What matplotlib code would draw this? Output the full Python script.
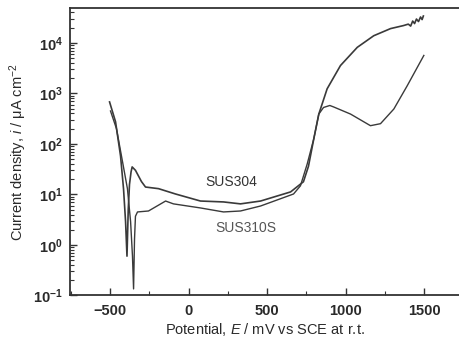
import numpy as np
import matplotlib
matplotlib.use("Agg")
import matplotlib.pyplot as plt
from matplotlib.ticker import MultipleLocator, LogLocator, NullFormatter

plt.rcParams['font.family'] = ['Liberation Sans', 'DejaVu Sans']
plt.rcParams['mathtext.fontset'] = 'custom'
plt.rcParams['mathtext.rm'] = 'Liberation Sans'
plt.rcParams['mathtext.it'] = 'Liberation Sans:italic'

# potential (mV vs SCE) and current density (uA cm-2)
sus304_E = [-503, -465, -433, -414, -401, -392, -384, -376, -366, -359, -338, -300,
            -274, -191, -83, 76, 223, 331, 459, 650, 732, 764, 798, 830, 883, 968,
            1075, 1180, 1287, 1369, 1400, 1415, 1428, 1440, 1452, 1465, 1478, 1488, 1496]
sus304_i = [676, 275, 57.5, 12.9, 2.9, 0.6, 5.0, 15.8, 28, 35, 30, 18,
            14, 13, 10.2, 7.4, 7.1, 6.5, 7.4, 11.2, 17.8, 36, 126, 389, 1230, 3550,
            8130, 13800, 19100, 21900, 23400, 21400, 26900, 24000, 29500, 26300, 32400, 28800, 33900]

sus310s_E = [-497, -459, -420, -389, -369, -357, -350, -344, -338, -325, -255, -146,
             -96, 76, 223, 331, 459, 669, 713, 756, 798, 830, 860, 900, 925, 1032,
             1159, 1223, 1308, 1393, 1499]
sus310s_i = [447, 200, 43.7, 12.9, 2.9, 0.6, 0.135, 1.3, 3.7, 4.5, 4.7, 7.4,
             6.5, 5.4, 4.5, 4.7, 5.9, 10.2, 14.8, 40, 126, 389, 525, 575, 537, 389,
             229, 251, 490, 1410, 5620]

x_ticks = [-500, 0, 500, 1000, 1500]

fig = plt.figure(figsize=(4.59, 3.49), dpi=100)
ax = fig.add_axes([0.1525, 0.1533, 0.8475, 0.824])

line_col = '#3a3a3a'
ax.plot(sus304_E, sus304_i, color=line_col, lw=1.2)
ax.plot(sus310s_E, sus310s_i, color=line_col, lw=1.0)

ax.set_yscale('log')
ax.set_xlim(-755, 1723)
ax.set_ylim(0.1, 10 ** 4.69)

ax.set_xticks(x_ticks)
ax.set_xticklabels(['\u2212500', '0', '500', '1000', '1500'])
ax.xaxis.set_minor_locator(MultipleLocator(250))
ax.yaxis.set_major_locator(LogLocator(base=10, numticks=10))
ax.yaxis.set_minor_locator(LogLocator(base=10, subs=np.arange(2, 10), numticks=20))
ax.yaxis.set_minor_formatter(NullFormatter())

ax.tick_params(which='both', direction='in', colors='#333333', labelsize=10.5,
               labelcolor='#2a2a2a')
ax.tick_params(which='major', length=5, width=1.0)
ax.tick_params(which='minor', length=3, width=0.8)
ax.tick_params(axis='x', pad=6)
ax.tick_params(axis='y', pad=5)
for lab in ax.get_xticklabels() + ax.get_yticklabels():
    lab.set_fontweight('bold')

ax.spines['right'].set_visible(False)
for s in ['left', 'bottom', 'top']:
    ax.spines[s].set_color('#333333')
    ax.spines[s].set_linewidth(1.3)

ax.set_xlabel('Potential, $E$ / mV vs SCE at r.t.', fontsize=10.5, color='#2a2a2a', labelpad=2)
ax.set_ylabel('Current density, $i$ / \u03bcA cm$^{-2}$', fontsize=10.5, color='#2a2a2a',
              labelpad=3)

ax.text(108, 10 ** 1.25, 'SUS304', fontsize=10, color='#333333', ha='left', va='center')
ax.text(172, 10 ** 0.34, 'SUS310S', fontsize=10, color='#555555', ha='left', va='center')

fig.savefig('out.png', dpi=100)
